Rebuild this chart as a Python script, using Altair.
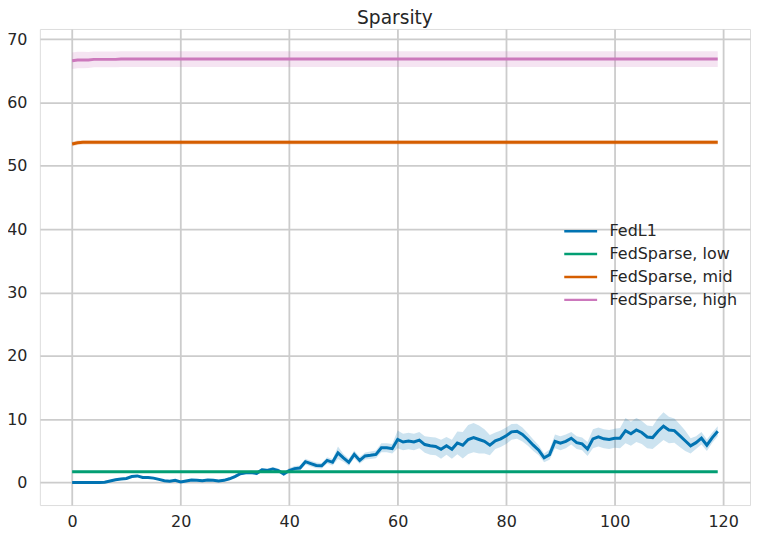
import altair as alt
import pandas as pd

rounds = list(range(120))

fedl1_mean = [
    0.0, 0.0, 0.0, 0.0, 0.0, 0.0, 0.05, 0.25, 0.45, 0.55,
    0.65, 0.95, 1.05, 0.8, 0.8, 0.7, 0.5, 0.3, 0.2, 0.35,
    0.1, 0.25, 0.4, 0.38, 0.3, 0.4, 0.38, 0.25, 0.35, 0.6,
    0.95, 1.4, 1.55, 1.6, 1.45, 2.0, 1.9, 2.15, 1.9, 1.35,
    1.9, 2.2, 2.3, 3.3, 3.0, 2.7, 2.65, 3.5, 3.2, 4.7,
    3.9, 3.2, 4.45, 3.5, 4.2, 4.3, 4.45, 5.5, 5.5, 5.35,
    6.8, 6.4, 6.55, 6.4, 6.7, 6.0, 5.8, 5.7, 5.25, 5.8,
    5.25, 6.25, 5.9, 6.8, 7.1, 6.8, 6.5, 5.9, 6.6, 6.9,
    7.4, 8.0, 8.1, 7.6, 6.8, 5.9, 5.1, 3.9, 4.4, 6.5,
    6.2, 6.5, 7.0, 6.3, 6.1, 5.3, 6.9, 7.2, 6.9, 6.8,
    7.0, 7.0, 8.2, 7.7, 8.3, 7.9, 7.2, 7.1, 8.1, 8.9,
    8.3, 8.2, 7.4, 6.6, 5.8, 6.3, 7.0, 5.9, 7.1, 8.1,
]
fedl1_hw = [
    0.1, 0.1, 0.1, 0.1, 0.1, 0.1, 0.1, 0.12, 0.12, 0.12,
    0.15, 0.15, 0.15, 0.15, 0.15, 0.15, 0.15, 0.15, 0.15, 0.15,
    0.15, 0.15, 0.15, 0.15, 0.15, 0.15, 0.15, 0.15, 0.2, 0.2,
    0.25, 0.25, 0.25, 0.3, 0.3, 0.3, 0.3, 0.3, 0.3, 0.3,
    0.35, 0.4, 0.4, 0.45, 0.45, 0.45, 0.45, 0.5, 0.5, 1.0,
    0.6, 0.55, 0.6, 0.55, 0.55, 0.6, 0.6, 0.7, 0.7, 0.75,
    1.4, 1.3, 1.3, 1.3, 1.3, 1.3, 1.4, 1.4, 1.5, 1.4,
    1.5, 1.8, 2.1, 2.3, 2.3, 2.2, 1.9, 1.6, 1.3, 1.3,
    1.3, 1.25, 1.2, 1.1, 1.0, 0.9, 0.8, 0.7, 0.8, 1.1,
    1.1, 1.1, 1.0, 1.0, 1.0, 1.1, 1.5, 1.5, 1.5, 1.5,
    1.5, 1.6, 2.0, 1.9, 1.9, 1.8, 1.8, 1.8, 2.1, 2.2,
    2.1, 1.9, 1.8, 1.6, 1.2, 1.0, 1.0, 0.9, 0.8, 0.8,
]

low_mean = [1.7] * 120
low_hw = [0.05] * 120

mid_mean = [53.45, 53.65] + [53.7] * 118
mid_hw = [0.35] * 120

high_mean = [66.6, 66.7, 66.7, 66.7, 66.8, 66.8, 66.8, 66.8, 66.8] + [66.85] * 111
high_hw = [1.3, 1.3, 1.3] + [1.25] * 117

series_names = ["FedL1", "FedSparse, low", "FedSparse, mid", "FedSparse, high"]
series_colors = ["#0173b2", "#029e73", "#d55e00", "#cc78bc"]

x_ticks = [0, 20, 40, 60, 80, 100, 120]
y_ticks = [0, 10, 20, 30, 40, 50, 60, 70]

frames = []
for name, mean, hw in zip(series_names,
                          [fedl1_mean, low_mean, mid_mean, high_mean],
                          [fedl1_hw, low_hw, mid_hw, high_hw]):
    frames.append(pd.DataFrame({
        "round": rounds,
        "value": mean,
        "lo": [m - h for m, h in zip(mean, hw)],
        "hi": [m + h for m, h in zip(mean, hw)],
        "series": name,
        "order": series_names.index(name),
    }))
df = pd.concat(frames, ignore_index=True)

xscale = alt.Scale(domain=[-5.95, 124.95], nice=False, zero=False)
yscale = alt.Scale(domain=[-3.55, 71.6], nice=False, zero=False)
cscale = alt.Scale(domain=series_names, range=series_colors)

xaxis = alt.Axis(values=x_ticks, title=None, grid=True, ticks=False, domain=False,
                 labelFontSize=16, labelPadding=9, labelColor="#262626",
                 labelFont="DejaVu Sans", gridColor="#cccccc", gridWidth=1.8)
yaxis = alt.Axis(values=y_ticks, title=None, grid=True, ticks=False, domain=False,
                 labelFontSize=16, labelPadding=13, labelColor="#262626",
                 labelFont="DejaVu Sans", gridColor="#cccccc", gridWidth=1.8)

base = alt.Chart(df)

bands = base.mark_area(opacity=0.2).encode(
    x=alt.X("round:Q", scale=xscale, axis=xaxis),
    y=alt.Y("lo:Q", scale=yscale, axis=yaxis),
    y2="hi:Q",
    color=alt.Color("series:N", scale=cscale, legend=None),
    order="order:Q",
    detail="series:N",
)

lines = base.mark_line(strokeWidth=3).encode(
    x=alt.X("round:Q", scale=xscale),
    y=alt.Y("value:Q", scale=yscale),
    color=alt.Color(
        "series:N", scale=cscale,
        legend=alt.Legend(
            title=None, orient="none", legendX=524, legendY=195,
            symbolType="M-1,0H5", symbolSize=121, symbolStrokeWidth=2.5,
            symbolFillColor="transparent",
            labelFontSize=16, labelFont="DejaVu Sans", labelColor="#262626",
            labelOffset=32, rowPadding=7, padding=0,
        ),
    ),
    order="round:Q",
)

chart = alt.layer(bands, lines).resolve_legend(color="independent").properties(
    width=713,
    height=478,
    padding={"left": 32, "top": 20, "right": 2, "bottom": 25},
    autosize="none",
    title=alt.TitleParams("Sparsity", fontSize=18.7, font="DejaVu Sans",
                          fontWeight="normal", color="#262626", offset=1,
                          anchor="middle"),
).configure_view(stroke="#cccccc", strokeWidth=1.8).configure(background="white")

chart.save("out.html", embed_options={"renderer": "svg", "actions": False})
